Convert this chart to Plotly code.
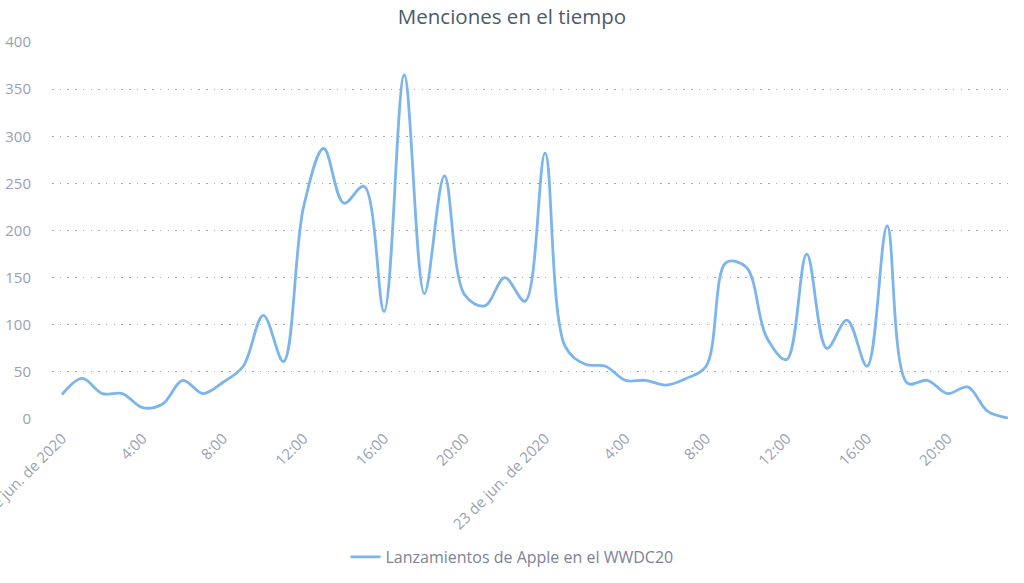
import plotly.graph_objects as go
import pandas as pd

title_text = "Menciones en el tiempo"
series_name = "Lanzamientos de Apple en el WWDC20"

times = pd.date_range("2020-06-22 00:00", periods=48, freq="h")
values = [26, 43, 27, 27, 12, 16, 41, 27, 39, 56,
          110, 61, 225, 287, 229, 247, 114, 365, 133, 258,
          132, 120, 150, 125, 282, 77, 58, 56, 41, 41,
          36, 43, 56, 166, 161, 87, 63, 175, 75, 105,
          56, 205, 38, 41, 27, 34, 8, 1]

tick_times = pd.date_range("2020-06-22 00:00", periods=12, freq="4h")
tick_labels = ["22 de jun. de 2020", "4:00", "8:00", "12:00", "16:00", "20:00",
               "23 de jun. de 2020", "4:00", "8:00", "12:00", "16:00", "20:00"]

y_ticks = [0, 50, 100, 150, 200, 250, 300, 350, 400]

fig = go.Figure()
fig.add_trace(go.Scatter(
    x=times, y=values, mode="lines", name=series_name,
    line=dict(color="#7cb5ec", width=2.8, shape="spline", smoothing=1.0),
    showlegend=True,
))

x0 = pd.Timestamp("2020-06-22 00:00") - pd.Timedelta(minutes=30)
x1 = pd.Timestamp("2020-06-22 00:00") + pd.Timedelta(minutes=int(47.35 * 60))

fig.update_layout(
    width=1024, height=583,
    margin=dict(l=52, r=9, t=42, b=164),
    paper_bgcolor="white", plot_bgcolor="white",
    font=dict(family="Open Sans, sans-serif", color="#9a9fb1", size=15),
    title=dict(text=title_text, x=0.5, xanchor="center", yref="container",
               y=1 - 17 / 583, yanchor="middle", automargin=False,
               font=dict(size=20.5, color="#4a5a6e", family="Open Sans, sans-serif")),
    showlegend=True,
    legend=dict(orientation="h", x=0.5, xanchor="center", xref="container",
                yref="container", y=1 - 557 / 583, yanchor="middle",
                font=dict(size=16, color="#7d8297")),
    xaxis=dict(
        type="date", range=[x0, x1], automargin=False,
        tickvals=list(tick_times), ticktext=tick_labels,
        tickangle=-45, showgrid=False, zeroline=False, showline=False,
        ticks="", tickfont=dict(size=15, color="#9a9fb1"),
        ticklabeloverflow="allow", ticklabelstandoff=7,
    ),
    yaxis=dict(
        range=[0, 400], tickvals=y_ticks, automargin=False,
        showgrid=True, gridcolor="#aaaaaa", griddash="1.5px,6.2px", gridwidth=1.4,
        zeroline=False, showline=False, ticks="",
        ticklabelstandoff=20, tickfont=dict(size=15, color="#9a9fb1"),
    ),
)

fig.write_html(
    "out.html",
    config={"displayModeBar": False},
    post_script="document.body.style.margin='0';document.body.style.overflow='hidden';",
)
